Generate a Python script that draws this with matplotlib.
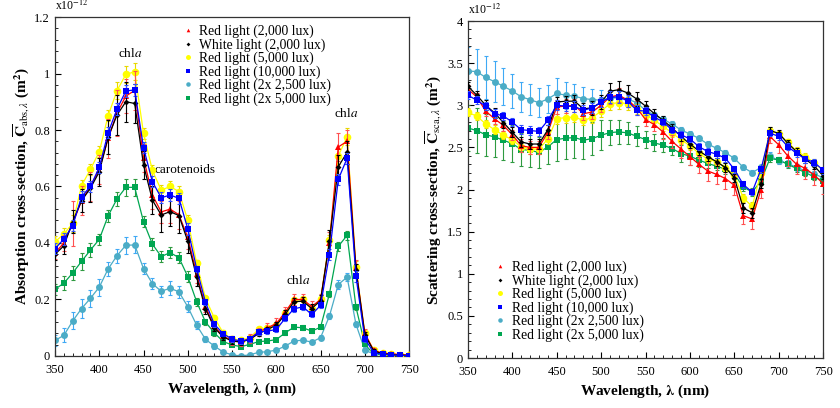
import numpy as np
import matplotlib
matplotlib.use("Agg")
import matplotlib.pyplot as plt
from matplotlib.ticker import MultipleLocator, FuncFormatter

plt.rcParams['font.family'] = ['Liberation Serif', 'DejaVu Serif']
plt.rcParams['mathtext.fontset'] = 'stix'

wl = np.arange(350, 751, 10)

labels = ["Red light (2,000 lux)", "White light (2,000 lux)", "Red light (5,000 lux)",
          "Red light (10,000 lux)", "Red light (2x 2,500 lux)", "Red light (2x 5,000 lux)"]

# absorption cross-section (x1e-12 m^2)
abs_red = [0.365, 0.40, 0.47, 0.55, 0.60, 0.66, 0.77, 0.86, 0.92, 0.94, 0.70, 0.57, 0.51, 0.52, 0.50, 0.42,
           0.29, 0.175, 0.105, 0.07, 0.055, 0.05, 0.062, 0.085, 0.10, 0.115, 0.155, 0.20, 0.20, 0.175, 0.20,
           0.40, 0.74, 0.76, 0.31, 0.08, 0.02, 0.01, 0.008, 0.005, 0.003]
abs_white = [0.36, 0.39, 0.476, 0.55, 0.594, 0.652, 0.774, 0.853, 0.90, 0.894, 0.676, 0.552, 0.499, 0.511,
             0.497, 0.406, 0.279, 0.167, 0.10, 0.067, 0.053, 0.049, 0.059, 0.079, 0.094, 0.109, 0.147, 0.192,
             0.194, 0.168, 0.196, 0.406, 0.67, 0.721, 0.305, 0.075, 0.018, 0.008, 0.005, 0.003, 0.002]
abs_r5000 = [0.404, 0.432, 0.47, 0.603, 0.661, 0.723, 0.851, 0.939, 0.997, 1.006, 0.788, 0.657, 0.587, 0.60,
             0.582, 0.48, 0.329, 0.204, 0.135, 0.082, 0.06, 0.055, 0.065, 0.094, 0.10, 0.11, 0.152, 0.197,
             0.20, 0.168, 0.20, 0.41, 0.708, 0.776, 0.315, 0.08, 0.02, 0.01, 0.006, 0.004, 0.003]
abs_r10000 = [0.38, 0.414, 0.461, 0.564, 0.60, 0.668, 0.79, 0.874, 0.938, 0.942, 0.737, 0.617, 0.56, 0.57,
              0.558, 0.45, 0.309, 0.19, 0.112, 0.079, 0.059, 0.053, 0.059, 0.085, 0.088, 0.094, 0.133, 0.167,
              0.174, 0.147, 0.179, 0.359, 0.625, 0.70, 0.282, 0.061, 0.012, 0.006, 0.004, 0.002, 0.0]
abs_2x2500 = [0.055, 0.073, 0.124, 0.168, 0.204, 0.244, 0.308, 0.355, 0.392, 0.393, 0.309, 0.256, 0.229,
              0.24, 0.227, 0.174, 0.109, 0.059, 0.035, 0.014, 0.004, 0.0, 0.004, 0.013, 0.015, 0.021, 0.035,
              0.053, 0.056, 0.049, 0.065, 0.141, 0.253, 0.279, 0.112, 0.021, 0.007, 0.004, 0.003, 0.002, 0.001]
abs_2x5000 = [0.236, 0.258, 0.294, 0.335, 0.375, 0.413, 0.496, 0.556, 0.597, 0.597, 0.475, 0.396, 0.352,
              0.366, 0.348, 0.281, 0.192, 0.12, 0.082, 0.051, 0.039, 0.033, 0.041, 0.051, 0.053, 0.058, 0.082,
              0.102, 0.10, 0.088, 0.102, 0.22, 0.388, 0.427, 0.173, 0.041, 0.007, 0.004, 0.003, 0.002, 0.001]

abs_red_err = [0.02, 0.03, 0.08, 0.05, 0.05, 0.05, 0.07, 0.08, 0.06, 0.07, 0.05, 0.05, 0.04, 0.05, 0.05, 0.04,
               0.03, 0.02, 0.015, 0.015, 0.015, 0.015, 0.015, 0.015, 0.015, 0.02, 0.02, 0.02, 0.02, 0.02, 0.02,
               0.04, 0.05, 0.04, 0.03, 0.015, 0.008, 0.008, 0.006, 0.006, 0.005]
abs_white_err = [0.02, 0.03, 0.04, 0.04, 0.05, 0.05, 0.06, 0.07, 0.07, 0.07, 0.05, 0.05, 0.06, 0.05, 0.06,
                 0.04, 0.03, 0.02, 0.01, 0.01, 0.01, 0.01, 0.01, 0.01, 0.01, 0.01, 0.015, 0.015, 0.015, 0.015,
                 0.02, 0.04, 0.04, 0.04, 0.02, 0.01, 0.005, 0.004, 0.004, 0.003, 0.003]
abs_r5000_err = [0.02, 0.02, 0.03, 0.02, 0.02, 0.02, 0.02, 0.03, 0.03, 0.03, 0.02, 0.02, 0.02, 0.02, 0.02,
                 0.02, 0.01, 0.01, 0.01, 0.01, 0.01, 0.01, 0.01, 0.01, 0.01, 0.01, 0.01, 0.01, 0.01, 0.01,
                 0.01, 0.02, 0.03, 0.03, 0.02, 0.01, 0.005, 0.004, 0.003, 0.003, 0.002]
abs_r10000_err = [0.02, 0.02, 0.02, 0.02, 0.02, 0.02, 0.02, 0.02, 0.02, 0.02, 0.02, 0.02, 0.02, 0.02, 0.02,
                  0.02, 0.01, 0.01, 0.01, 0.01, 0.01, 0.01, 0.01, 0.01, 0.01, 0.01, 0.01, 0.01, 0.01, 0.01,
                  0.01, 0.02, 0.02, 0.02, 0.02, 0.01, 0.004, 0.003, 0.003, 0.002, 0.002]
abs_2x2500_err = [0.02, 0.025, 0.03, 0.035, 0.03, 0.03, 0.025, 0.025, 0.03, 0.03, 0.02, 0.02, 0.02, 0.025,
                  0.02, 0.02, 0.015, 0.01, 0.01, 0.008, 0.005, 0.005, 0.005, 0.005, 0.005, 0.005, 0.008,
                  0.008, 0.008, 0.008, 0.008, 0.01, 0.015, 0.015, 0.01, 0.005, 0.004, 0.003, 0.003, 0.002, 0.002]
abs_2x5000_err = [0.02, 0.025, 0.025, 0.03, 0.025, 0.02, 0.02, 0.025, 0.03, 0.03, 0.02, 0.02, 0.02, 0.02,
                  0.02, 0.02, 0.015, 0.01, 0.01, 0.008, 0.005, 0.005, 0.005, 0.005, 0.005, 0.005, 0.008,
                  0.008, 0.008, 0.008, 0.008, 0.01, 0.015, 0.015, 0.01, 0.005, 0.004, 0.003, 0.003, 0.002, 0.002]

# scattering cross-section (x1e-12 m^2)
sca_red = [3.19, 3.10, 2.93, 2.84, 2.76, 2.65, 2.52, 2.50, 2.50, 2.68, 2.98, 2.99, 3.00, 2.90, 2.92, 3.00,
           3.10, 3.12, 3.06, 2.97, 2.83, 2.77, 2.68, 2.57, 2.48, 2.39, 2.30, 2.22, 2.18, 2.13, 2.05, 1.69,
           1.65, 2.00, 2.63, 2.53, 2.40, 2.30, 2.25, 2.17, 2.07]
sca_white = [3.225, 3.12, 3.00, 2.91, 2.795, 2.68, 2.565, 2.54, 2.54, 2.71, 3.04, 3.047, 3.05, 2.957, 2.97,
             3.036, 3.166, 3.186, 3.146, 3.075, 2.99, 2.90, 2.82, 2.73, 2.63, 2.54, 2.46, 2.39, 2.33, 2.26,
             2.14, 1.78, 1.725, 2.07, 2.70, 2.667, 2.55, 2.45, 2.36, 2.28, 2.16]
sca_r5000 = [2.917, 2.87, 2.78, 2.71, 2.645, 2.59, 2.506, 2.48, 2.48, 2.60, 2.84, 2.854, 2.86, 2.82, 2.854,
             2.93, 3.02, 3.03, 3.02, 2.96, 2.89, 2.82, 2.75, 2.67, 2.59, 2.52, 2.43, 2.36, 2.33, 2.26, 2.17,
             1.90, 1.80, 2.20, 2.70, 2.66, 2.56, 2.46, 2.39, 2.32, 2.22]
sca_r10000 = [3.12, 3.06, 2.99, 2.90, 2.873, 2.80, 2.71, 2.70, 2.69, 2.82, 3.00, 2.99, 2.985, 2.94, 2.97,
              3.036, 3.095, 3.10, 3.05, 2.94, 2.93, 2.86, 2.80, 2.706, 2.65, 2.60, 2.51, 2.45, 2.42, 2.37,
              2.24, 2.06, 1.97, 2.24, 2.67, 2.63, 2.51, 2.43, 2.36, 2.32, 2.23]
sca_2x2500 = [3.407, 3.40, 3.33, 3.28, 3.225, 3.17, 3.10, 3.067, 3.03, 3.075, 3.14, 3.12, 3.107, 3.08, 3.067,
              3.06, 3.087, 3.087, 3.075, 3.03, 2.94, 2.884, 2.833, 2.777, 2.706, 2.659, 2.608, 2.54, 2.489,
              2.437, 2.37, 2.263, 2.20, 2.263, 2.40, 2.342, 2.31, 2.263, 2.223, 2.184, 2.14]
sca_2x5000 = [2.73, 2.70, 2.65, 2.625, 2.585, 2.545, 2.474, 2.466, 2.44, 2.506, 2.593, 2.609, 2.617, 2.585,
              2.605, 2.644, 2.676, 2.684, 2.672, 2.632, 2.593, 2.553, 2.526, 2.486, 2.427, 2.395, 2.35, 2.31,
              2.277, 2.24, 2.18, 2.03, 1.97, 2.10, 2.37, 2.35, 2.30, 2.25, 2.20, 2.15, 2.10]

sca_red_err = [0.05, 0.05, 0.06, 0.06, 0.06, 0.06, 0.08, 0.08, 0.08, 0.08, 0.08, 0.08, 0.08, 0.08, 0.08, 0.08,
               0.08, 0.08, 0.08, 0.08, 0.08, 0.08, 0.08, 0.08, 0.10, 0.10, 0.10, 0.12, 0.12, 0.12, 0.12, 0.10,
               0.12, 0.10, 0.08, 0.10, 0.12, 0.12, 0.12, 0.12, 0.12]
sca_white_err = [0.05, 0.05, 0.06, 0.06, 0.06, 0.06, 0.06, 0.06, 0.06, 0.06, 0.06, 0.06, 0.07, 0.07, 0.08,
                 0.08, 0.10, 0.10, 0.10, 0.08, 0.06, 0.05, 0.05, 0.05, 0.05, 0.05, 0.05, 0.05, 0.05, 0.05,
                 0.05, 0.06, 0.06, 0.05, 0.04, 0.04, 0.04, 0.04, 0.04, 0.04, 0.04]
sca_r5000_err = [0.05, 0.05, 0.05, 0.05, 0.05, 0.05, 0.06, 0.06, 0.06, 0.06, 0.06, 0.06, 0.06, 0.06, 0.06,
                 0.07, 0.08, 0.08, 0.08, 0.06, 0.05, 0.05, 0.05, 0.05, 0.05, 0.05, 0.05, 0.05, 0.05, 0.05,
                 0.05, 0.05, 0.05, 0.05, 0.04, 0.04, 0.04, 0.04, 0.04, 0.04, 0.04]
sca_r10000_err = [0.05, 0.05, 0.05, 0.05, 0.05, 0.05, 0.05, 0.05, 0.05, 0.05, 0.06, 0.06, 0.06, 0.06, 0.06,
                  0.06, 0.07, 0.07, 0.07, 0.06, 0.05, 0.04, 0.04, 0.04, 0.04, 0.04, 0.04, 0.04, 0.04, 0.04,
                  0.04, 0.04, 0.04, 0.04, 0.04, 0.04, 0.04, 0.04, 0.04, 0.04, 0.04]
sca_2x2500_err = [0.28, 0.27, 0.25, 0.24, 0.22, 0.20, 0.18, 0.18, 0.17, 0.17, 0.18, 0.16, 0.15, 0.14, 0.13,
                  0.12, 0.10, 0.08, 0.07, 0.06, 0.05, 0.04, 0.04, 0.04, 0.04, 0.04, 0.03, 0.03, 0.03, 0.03,
                  0.03, 0.03, 0.03, 0.03, 0.04, 0.04, 0.04, 0.04, 0.04, 0.04, 0.04]
sca_2x5000_err = [0.27, 0.27, 0.25, 0.24, 0.23, 0.22, 0.20, 0.20, 0.18, 0.20, 0.25, 0.25, 0.24, 0.22, 0.20,
                  0.18, 0.15, 0.14, 0.13, 0.12, 0.10, 0.10, 0.08, 0.08, 0.10, 0.10, 0.08, 0.06, 0.05, 0.05,
                  0.05, 0.05, 0.05, 0.05, 0.04, 0.04, 0.04, 0.04, 0.04, 0.04, 0.04]

colors = ["#ff0000", "#000000", "#ffff00", "#0000ff", "#4bacc6", "#00a651"]
ecolors = ["#ff5050", "#000000", "#e8d800", "#3050ff", "#3fa9f5", "#2e9a40"]
markers = ["^", "D", "o", "s", "o", "s"]
msizes = [4, 3, 5.5, 5, 5, 5]
zorders = [4, 5, 3, 6, 2, 2]

abs_series = [abs_red, abs_white, abs_r5000, abs_r10000, abs_2x2500, abs_2x5000]
abs_errs = [abs_red_err, abs_white_err, abs_r5000_err, abs_r10000_err, abs_2x2500_err, abs_2x5000_err]
sca_series = [sca_red, sca_white, sca_r5000, sca_r10000, sca_2x2500, sca_2x5000]
sca_errs = [sca_red_err, sca_white_err, sca_r5000_err, sca_r10000_err, sca_2x2500_err, sca_2x5000_err]

fig = plt.figure(figsize=(8.4, 4.08), dpi=100)
ax1 = fig.add_axes([0.0655, 0.1275, 0.4215, 0.8308])
ax2 = fig.add_axes([0.557, 0.1225, 0.423, 0.826])

fmt = FuncFormatter(lambda v, p: "%g" % round(v, 2))


def draw(ax, series, errs):
    handles = []
    for i in range(6):
        ax.errorbar(wl, series[i], yerr=errs[i], fmt="none", ecolor=ecolors[i], elinewidth=0.8,
                    capsize=1.5, capthick=0.8, zorder=zorders[i])
        ax.plot(wl, series[i], color=colors[i], lw=0.9, zorder=zorders[i])
        h, = ax.plot(wl, series[i], linestyle="", marker=markers[i], ms=msizes[i], color=colors[i],
                     markeredgewidth=0, zorder=zorders[i] + 0.5, label=labels[i])
        handles.append(h)
    ax.set_xlim(350, 750)
    ax.xaxis.set_major_locator(MultipleLocator(50))
    ax.xaxis.set_minor_locator(MultipleLocator(10))
    ax.yaxis.set_major_formatter(fmt)
    ax.tick_params(which="both", direction="in", labelsize=9, top=False, right=False)
    ax.tick_params(which="major", length=4)
    ax.tick_params(which="minor", length=2)
    ax.tick_params(axis="x", pad=6)
    for s in ax.spines.values():
        s.set_linewidth(0.9)
        s.set_color("#333333")
    ax.set_xlabel("Wavelength, $\\mathbf{\\lambda}$ (nm)", fontsize=11, fontweight="bold", labelpad=3)
    ax.text(0.0, 1.012, "x10$^{-12}$", transform=ax.transAxes, fontsize=8.5, ha="left", va="bottom")
    return handles


h1 = draw(ax1, abs_series, abs_errs)
ax1.set_ylim(0, 1.2)
ax1.yaxis.set_major_locator(MultipleLocator(0.2))
ax1.yaxis.set_minor_locator(MultipleLocator(0.04))
ax1.set_ylabel("Absorption cross-section, $\\overline{\\mathbf{C}}_{\\mathrm{abs},\\lambda}$ (m$^\\mathbf{2}$)",
               fontsize=11, fontweight="bold", labelpad=2)
ax1.legend(handles=h1, loc="upper left", bbox_to_anchor=(0.335, 1.005), frameon=False, fontsize=9.8,
           handlelength=0.7, handletextpad=0.5, labelspacing=0.0, markerscale=0.65, borderaxespad=0.3)
ax1.text(435, 1.07, "chl$a$", fontsize=9.5, ha="center", va="center")
ax1.text(497, 0.658, "carotenoids", fontsize=9.5, ha="center", va="center")
ax1.text(625, 0.267, "chl$a$", fontsize=9.5, ha="center", va="center")
ax1.text(679, 0.857, "chl$a$", fontsize=9.5, ha="center", va="center")

h2 = draw(ax2, sca_series, sca_errs)
ax2.set_ylim(0, 4)
ax2.yaxis.set_major_locator(MultipleLocator(0.5))
ax2.yaxis.set_minor_locator(MultipleLocator(0.1))
ax2.set_ylabel("Scattering cross-section, $\\overline{\\mathbf{C}}_{\\mathrm{sca},\\lambda}$ (m$^\\mathbf{2}$)",
               fontsize=11, fontweight="bold", labelpad=2)
ax2.legend(handles=h2, loc="lower left", bbox_to_anchor=(0.05, 0.02), frameon=False, fontsize=9.8,
           handlelength=0.7, handletextpad=0.5, labelspacing=0.0, markerscale=0.65, borderaxespad=0.3)

fig.savefig("out.png", dpi=100)
